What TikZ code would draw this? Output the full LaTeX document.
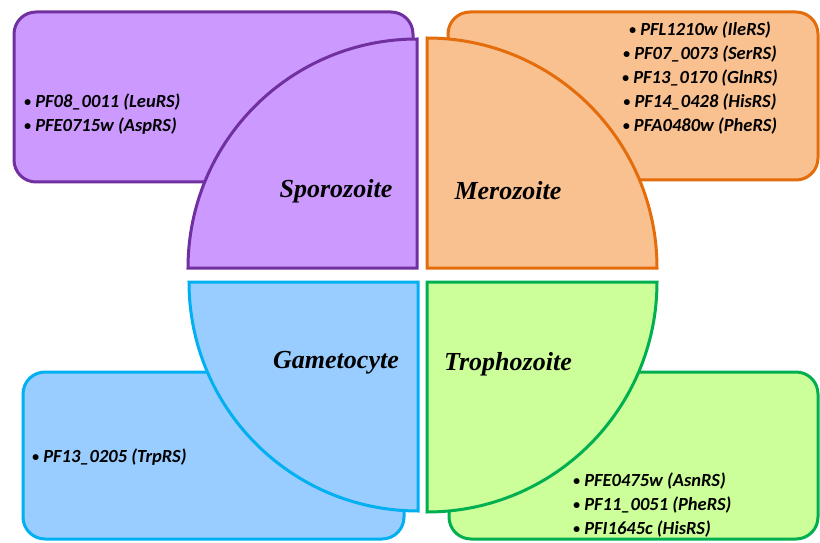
\documentclass[tikz,border=0pt]{standalone}
\usepackage{fontspec}
\setmainfont{Liberation Serif}
\newfontfamily\carlfont{Carlito}
\newcommand{\mybul}{\raisebox{1.3pt}{\fontsize{14}{24}\selectfont•}}
\definecolor{purpF}{HTML}{CC99FF}
\definecolor{purpD}{HTML}{7030A0}
\definecolor{orgF}{HTML}{F9C090}
\definecolor{orgD}{HTML}{E46C0A}
\definecolor{bluF}{HTML}{99CCFF}
\definecolor{bluD}{HTML}{00B0F0}
\definecolor{grnF}{HTML}{CCFF99}
\definecolor{grnD}{HTML}{00B050}
\tikzset{
  box/.style={line width=3pt, rounded corners=22pt},
  quart/.style={line width=3pt, line join=miter},
  stage/.style={font=\bfseries\itshape\fontsize{26}{30}\selectfont, inner sep=0pt},
  genes/.style={font=\carlfont\bfseries\itshape\fontsize{18.5}{24}\selectfont, inner sep=0pt},
}
\begin{document}
\begin{tikzpicture}[x=1pt,y=1pt]
\useasboundingbox (0,0) rectangle (820,542);
% purple
\draw[box, draw=purpD, fill=purpF] (14,360) rectangle (413,530);
\draw[quart, draw=purpD, fill=purpF] (417,274) -- (188,274) arc[start angle=180, end angle=90, radius=229] -- cycle;
% orange
\draw[box, draw=orgD, fill=orgF] (448,362) rectangle (818,530);
\draw[quart, draw=orgD, fill=orgF] (427,274) -- (427,504) arc[start angle=90, end angle=0, radius=230] -- cycle;
% blue
\draw[box, draw=bluD, fill=bluF] (23,3) rectangle (404,170);
\draw[quart, draw=bluD, fill=bluF] (418,260) -- (189,260) arc[start angle=180, end angle=270, radius=229] -- cycle;
% green
\draw[box, draw=grnD, fill=grnF] (449,3) rectangle (818,170);
\draw[quart, draw=grnD, fill=grnF] (427,260) -- (657,260) arc[start angle=0, end angle=-90, radius=230] -- cycle;
% labels
\node[stage] (spo) at (336,351) {Sporozoite};
\node[stage] (mer) at (508,351) {Merozoite};
\node[stage] (gam) at (336,179) {Gametocyte};
\node[stage] (tro) at (508,178) {Trophozoite};
% gene lists
\node[genes, anchor=west, align=left] (gspo) at (24,428) {\mybul{} PF08\_0011 (LeuRS)\\\mybul{} PFE0715w (AspRS)};
\node[genes, align=center] (gmer) at (700,464) {\mybul{} PFL1210w (IleRS)\\\mybul{} PF07\_0073 (SerRS)\\\mybul{} PF13\_0170 (GlnRS)\\\mybul{} PF14\_0428 (HisRS)\\\mybul{} PFA0480w (PheRS)};
\node[genes, anchor=west, align=left] (ggam) at (32,85) {\mybul{} PF13\_0205 (TrpRS)};
\node[genes, anchor=west, align=left] (gtro) at (573,37) {\mybul{} PFE0475w (AsnRS)\\\mybul{} PF11\_0051 (PheRS)\\\mybul{} PFI1645c (HisRS)};
\end{tikzpicture}
\end{document}
